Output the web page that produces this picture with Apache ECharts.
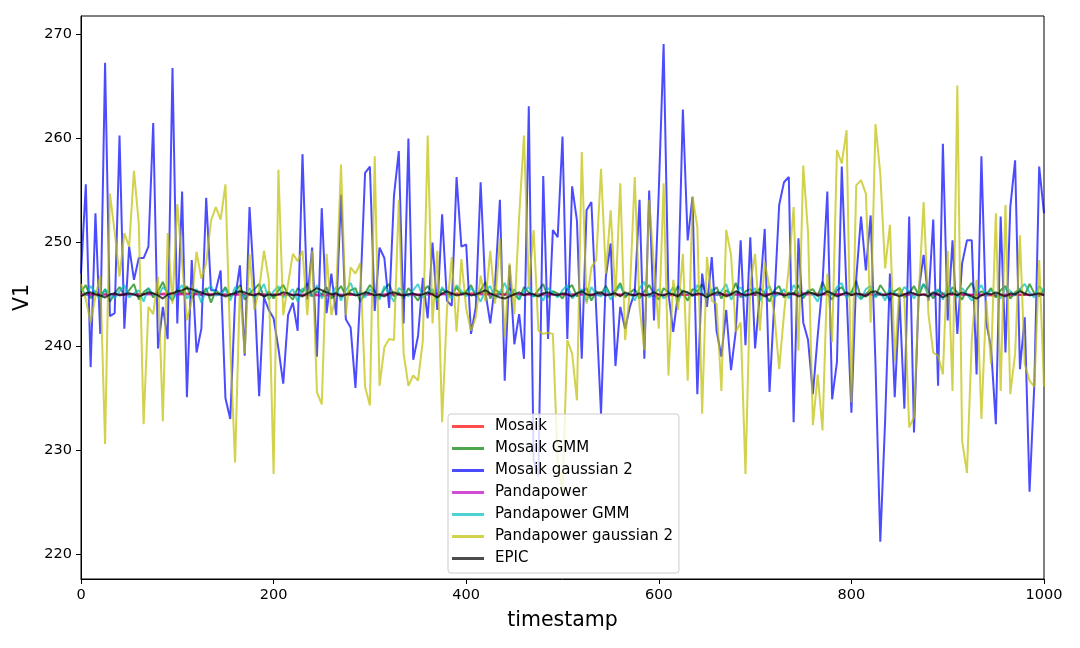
<!DOCTYPE html>
<html>
<head>
<meta charset="utf-8">
<title>V1 over timestamp</title>
<script src="https://cdn.jsdelivr.net/npm/echarts@6/dist/echarts.min.js"></script>
<style>
  html, body { margin: 0; padding: 0; background: #ffffff; }
  #chart { width: 1080px; height: 648px; }
</style>
</head>
<body>
<div id="chart"></div>
<script>
// eje x: un punto cada 5 unidades de 0 a 1000
var timestamp = [];
for (var i = 0; i <= 200; i++) timestamp.push(i * 5);
// las series planas solo necesitan pocos puntos
var flatTimestamp = [0, 50, 100, 150, 200, 250, 300, 350, 400, 450, 500, 550, 600, 650, 700, 750, 800, 850, 900, 950, 1000];

var xTicks = [0, 200, 400, 600, 800, 1000];
var yTicks = [220, 230, 240, 250, 260, 270];

var mosaik = [245.0, 245.0, 245.1, 245.0, 245.0, 244.9, 245.0, 245.0, 245.1, 245.0, 245.0,
  245.0, 244.9, 245.0, 245.0, 245.1, 245.0, 245.0, 245.0, 244.9, 245.0];

var pandapower = [245.0, 245.0, 245.0, 245.0, 245.0, 245.0, 245.0, 245.0, 245.0, 245.0, 245.0,
  245.0, 245.0, 245.0, 245.0, 245.0, 245.0, 245.0, 245.0, 245.0, 245.0];

var mosaikGMM = [
  245.2, 245.9, 244.6, 245.3, 244.8, 245.5, 244.3, 245.1, 245.7, 244.9,
  245.4, 246.0, 244.5, 245.2, 245.6, 244.7, 245.3, 246.2, 245.0, 244.4,
  245.5, 245.1, 245.8, 244.6, 245.3, 244.9, 245.6, 244.2, 245.4, 245.0,
  245.7, 244.8, 245.2, 245.9, 244.5, 245.1, 245.5, 246.0, 244.7, 245.3,
  244.6, 245.4, 245.9, 245.0, 244.5, 245.6, 245.2, 246.1, 244.8, 245.3,
  245.0, 245.7, 244.6, 245.2, 245.8, 244.9, 245.4, 245.6, 244.3, 245.1,
  245.9, 245.3, 244.7, 245.5, 246.0, 244.8, 245.2, 244.6, 245.6, 245.0,
  244.4, 245.3, 245.8, 245.1, 244.7, 245.5, 245.2, 244.9, 245.7, 245.0,
  245.3, 245.9, 244.8, 245.4, 246.2, 244.6, 245.5, 245.1, 244.9, 245.6,
  245.0, 244.5, 245.7, 245.2, 244.8, 245.4, 246.0, 244.7, 245.3, 245.1,
  244.6, 245.5, 245.9, 244.8, 245.2, 245.6, 244.4, 245.3, 245.0, 245.8,
  244.9, 245.4, 246.1, 244.7, 245.2, 245.5, 244.6, 245.3, 245.9, 245.0,
  244.5, 245.6, 245.2, 244.9, 245.8, 245.1, 244.4, 245.5, 245.3, 246.0,
  244.8, 245.2, 245.7, 244.6, 245.4, 245.0, 246.1, 244.7, 245.3, 245.5,
  244.9, 245.6, 245.1, 244.3, 245.4, 245.8, 244.7, 245.2, 245.0, 245.9,
  244.6, 245.3, 245.5, 244.8, 246.2, 245.1, 244.5, 245.4, 245.7, 244.9,
  245.2, 246.3, 244.6, 245.0, 245.5, 244.8, 245.9, 245.2, 244.4, 245.3,
  245.6, 244.7, 245.1, 245.8, 244.9, 246.0, 245.3, 244.6, 245.4, 245.1,
  244.8, 245.7, 245.2, 244.5, 245.5, 246.1, 244.9, 245.3, 245.0, 245.6,
  244.7, 245.4, 245.8, 244.6, 245.2, 245.5, 244.9, 246.0, 245.1, 244.8,
  245.5];

var mosaikGaussian2 = [
  247.0, 255.6, 238.0, 252.8, 241.2, 267.3, 242.9, 243.2, 260.3, 241.7,
  249.6, 246.4, 248.5, 248.5, 249.6, 261.5, 239.8, 243.8, 240.7, 266.8,
  242.2, 254.9, 235.1, 248.3, 239.4, 241.7, 254.3, 245.4, 245.4, 247.3,
  235.0, 233.0, 244.6, 247.8, 239.1, 253.4, 245.6, 235.2, 244.7, 243.5,
  242.7, 239.8, 236.4, 243.0, 244.2, 241.5, 258.5, 244.5, 249.5, 239.0,
  253.3, 243.2, 247.0, 243.0, 254.6, 242.6, 241.8, 236.0, 245.0, 256.7,
  257.3, 243.4, 249.5, 248.5, 243.7, 254.5, 258.8, 242.2, 260.0, 238.7,
  241.0, 246.6, 242.7, 250.0, 243.5, 252.7, 244.4, 243.9, 256.3, 249.6,
  249.8, 241.2, 243.8, 255.8, 245.2, 242.2, 246.0, 254.1, 236.7, 247.8,
  240.2, 243.1, 238.8, 263.1, 229.0, 227.5, 256.4, 240.7, 251.2, 250.5,
  260.2, 240.7, 255.4, 252.1, 238.8, 253.1, 253.9, 243.5, 233.5, 246.7,
  249.9, 238.1, 243.8, 241.7, 243.8, 245.2, 254.1, 238.8, 255.0, 242.5,
  255.0, 269.1, 245.1, 241.4, 245.1, 262.8, 250.2, 254.4, 235.4, 247.0,
  243.8, 248.6, 241.5, 239.0, 243.5, 237.7, 241.5, 250.2, 240.1, 250.5,
  239.8, 245.1, 251.3, 235.6, 244.4, 253.6, 255.8, 256.3, 232.7, 250.4,
  242.3, 240.6, 235.4, 241.0, 246.0, 254.9, 234.9, 238.5, 257.3, 245.1,
  233.6, 246.5, 252.5, 247.3, 252.6, 238.3, 221.2, 232.8, 247.0, 235.1,
  244.7, 234.0, 252.5, 231.7, 245.4, 248.8, 244.4, 252.2, 236.2, 259.5,
  242.5, 250.2, 241.2, 248.0, 250.2, 250.2, 237.3, 258.3, 242.3, 239.9,
  232.5, 252.5, 239.4, 253.4, 257.9, 237.8, 242.8, 226.0, 236.4, 257.3,
  252.8];

var pandapowerGMM = [
  245.6, 244.9, 245.8, 245.2, 244.4, 245.5, 245.0, 244.6, 245.3, 245.9,
  244.7, 245.1, 245.4, 244.3, 245.6, 245.0, 244.8, 245.7, 245.2, 244.5,
  245.3, 245.9, 244.6, 245.1, 245.5, 244.2, 245.4, 245.8, 244.9, 245.0,
  245.5, 244.4, 245.7, 245.1, 244.8, 245.6, 244.6, 245.2, 246.0, 244.5,
  245.3, 245.8, 244.7, 245.0, 245.5, 244.3, 245.6, 245.2, 244.8, 245.9,
  244.6, 245.3, 245.0, 245.7, 244.4, 245.4, 246.1, 244.9, 245.2, 244.7,
  245.5, 245.0, 244.5, 245.8, 245.1, 244.3, 245.6, 245.3, 244.8, 245.4,
  246.0, 244.7, 245.2, 245.5, 244.4, 245.7, 245.0, 244.6, 245.9, 245.3,
  244.8, 245.6, 245.1, 244.3, 245.4, 245.8, 244.6, 245.2, 246.1, 244.9,
  245.5, 244.5, 245.3, 245.7, 244.8, 245.0, 244.4, 245.6, 245.2, 244.7,
  245.4, 245.9, 244.6, 245.1, 245.5, 244.3, 245.7, 245.0, 244.8, 245.6,
  244.5, 245.3, 245.8, 244.9, 245.2, 244.4, 245.6, 246.2, 244.7, 245.1,
  245.5, 244.6, 245.0, 245.7, 244.3, 245.4, 245.1, 244.8, 245.9, 245.2,
  244.6, 245.5, 244.9, 245.3, 246.0, 244.5, 245.2, 245.7, 244.8, 245.0,
  245.6, 244.4, 245.3, 245.8, 244.7, 245.1, 245.5, 244.6, 245.9, 245.2,
  244.8, 245.4, 245.0, 244.3, 245.6, 245.2, 244.9, 245.7, 246.1, 244.6,
  245.3, 245.0, 244.5, 245.5, 245.8, 244.7, 245.2, 244.4, 245.6, 245.1,
  244.9, 245.7, 245.3, 244.6, 245.4, 246.0, 244.8, 245.1, 245.5, 244.5,
  245.8, 245.2, 244.7, 245.6, 245.0, 244.4, 245.3, 245.9, 244.8, 245.4,
  245.1, 244.6, 245.7, 245.3, 244.9, 245.5, 246.0, 245.2, 244.7, 245.8,
  245.3];

var pandapowerGaussian2 = [
  246.0, 244.5, 242.3, 244.8, 246.8, 230.6, 254.7, 251.0, 246.7, 250.9,
  249.6, 256.9, 251.8, 232.5, 243.8, 243.1, 246.7, 232.8, 250.9, 244.1,
  253.7, 248.0, 242.5, 244.4, 249.1, 246.5, 248.0, 252.1, 253.4, 252.2,
  255.6, 240.0, 228.8, 245.7, 239.3, 248.9, 243.5, 245.5, 249.2, 246.4,
  227.7, 257.0, 243.0, 246.0, 248.9, 248.2, 249.2, 243.0, 249.2, 235.6,
  234.4, 248.9, 243.0, 245.1, 257.5, 243.0, 247.6, 247.0, 248.0, 236.1,
  234.3, 258.3, 236.2, 239.9, 240.7, 240.6, 254.1, 239.3, 236.2, 237.2,
  236.7, 240.6, 260.3, 242.2, 249.2, 232.7, 243.5, 248.6, 241.4, 248.4,
  243.6, 241.5, 242.8, 246.8, 244.3, 249.2, 244.1, 250.4, 240.9, 248.0,
  243.1, 252.5, 260.3, 245.7, 251.2, 241.5, 241.2, 241.3, 241.2, 229.0,
  226.0, 240.6, 239.3, 234.8, 258.7, 244.1, 247.6, 248.3, 257.1, 247.0,
  253.1, 244.7, 255.7, 240.6, 245.4, 256.3, 243.8, 239.6, 254.1, 247.6,
  241.7, 255.7, 237.2, 246.4, 243.5, 248.9, 236.7, 254.4, 251.5, 233.5,
  248.6, 244.4, 244.1, 235.7, 251.2, 248.8, 241.4, 242.3, 227.7, 246.0,
  248.9, 241.5, 248.1, 245.7, 243.1, 237.8, 243.1, 247.6, 253.4, 239.6,
  257.4, 250.9, 232.4, 237.3, 231.9, 247.0, 240.4, 258.9, 257.6, 260.8,
  234.6, 255.5, 256.0, 254.7, 242.3, 261.4, 256.6, 247.5, 251.7, 238.6,
  245.7, 244.7, 232.2, 233.2, 245.1, 253.9, 243.1, 239.4, 239.1, 237.3,
  249.2, 235.7, 265.1, 230.9, 227.8, 240.6, 246.4, 233.0, 244.4, 238.3,
  252.8, 235.7, 253.6, 235.4, 239.3, 250.7, 238.3, 236.7, 236.1, 248.3,
  236.1];

var epic = [
  244.8, 245.1, 245.2, 245.0, 244.9, 244.7, 245.0, 245.1, 244.9, 245.0,
  245.1, 245.0, 244.8, 245.0, 245.2, 245.1, 244.9, 244.6, 245.0, 245.1,
  245.3, 245.4, 245.6, 245.5, 245.3, 245.2, 245.0, 244.9, 245.1, 245.0,
  244.8, 245.0, 245.1, 245.3, 245.2, 245.0, 244.9, 245.1, 244.8, 245.0,
  244.9, 245.0, 245.2, 245.1, 244.9, 245.0, 244.8, 245.1, 245.3, 245.6,
  245.4, 245.2, 245.0, 245.1, 244.8, 245.0, 245.1, 244.9, 245.0, 245.2,
  245.1, 244.9, 245.0, 244.8, 245.1, 245.2, 245.0, 244.9, 245.0, 245.1,
  244.9, 245.0, 245.2, 245.0, 244.7, 245.1, 245.3, 245.1, 244.9, 245.0,
  245.1, 244.9, 245.0, 245.2, 245.4, 245.1, 244.9, 244.7, 244.6, 244.8,
  245.0, 245.2, 244.9, 245.1, 245.0, 244.8, 245.1, 245.2, 245.0, 244.9,
  245.1, 245.0, 244.8, 245.1, 245.3, 245.0, 244.9, 245.1, 245.2, 244.9,
  245.0, 245.1, 244.8, 245.2, 245.0, 244.9, 245.1, 244.9, 245.0, 245.2,
  245.0, 244.9, 245.1, 245.0, 244.8, 245.3, 245.2, 244.9, 245.1, 245.0,
  244.7, 245.0, 245.2, 245.1, 244.8, 245.0, 245.3, 245.1, 244.9, 245.0,
  245.2, 245.1, 244.8, 245.0, 245.2, 245.1, 244.9, 245.0, 245.1, 244.8,
  245.0, 245.2, 245.1, 244.9, 245.0, 245.3, 245.1, 244.8, 245.0, 245.2,
  244.9, 245.1, 245.0, 244.8, 245.2, 245.3, 245.0, 244.9, 245.1, 245.0,
  244.8, 245.0, 245.2, 245.1, 244.9, 245.0, 244.8, 245.2, 245.0, 244.7,
  245.0, 245.1, 244.9, 245.2, 245.0, 244.8, 244.6, 244.9, 245.1, 245.0,
  245.2, 245.0, 244.8, 245.1, 245.0, 245.3, 245.1, 244.9, 245.0, 245.1,
  244.9];

function pares(xs, ys) {
  return xs.map(function (x, i) { return [x, ys[i]]; });
}

function linea(nombre, color, xs, ys) {
  return {
    name: nombre,
    type: 'line',
    data: pares(xs, ys),
    symbol: 'none',
    smooth: false,
    lineStyle: { color: color, width: 2, opacity: 0.7 },
    itemStyle: { color: color, opacity: 0.7 }
  };
}

var fuente = 'DejaVu Sans';
var chart = echarts.init(document.getElementById('chart'), null, { renderer: 'canvas' });

var option = {
  animation: false,
  backgroundColor: '#ffffff',
  grid: {
    left: 81, right: 36, top: 16, bottom: 69,
    show: true, borderColor: '#000000', borderWidth: 1, backgroundColor: 'transparent'
  },
  legend: {
    orient: 'vertical',
    left: 448, top: 414,
    padding: [5, 6, 7, 4],
    itemWidth: 32, itemHeight: 14, itemGap: 7,
    icon: 'path://M0,5.5L32,5.5L32,8.5L0,8.5Z',
    itemStyle: { borderWidth: 0 },
    backgroundColor: 'rgba(255,255,255,0.8)',
    borderColor: '#cccccc', borderWidth: 1, borderRadius: 3,
    textStyle: { fontFamily: fuente, fontSize: 15, color: '#000000', padding: [0, 0, 0, 6] },
    data: ['Mosaik', 'Mosaik GMM', 'Mosaik gaussian 2', 'Pandapower', 'Pandapower GMM', 'Pandapower gaussian 2', 'EPIC']
  },
  xAxis: {
    type: 'value',
    min: 0, max: 1000, interval: 200,
    name: 'timestamp', nameLocation: 'middle', nameGap: 31,
    nameTextStyle: { fontFamily: fuente, fontSize: 20.5, color: '#000000' },
    axisLine: { onZero: false, lineStyle: { color: '#000000', width: 1 } },
    axisTick: { show: true, inside: false, length: 5, lineStyle: { color: '#000000' }, customValues: xTicks },
    axisLabel: {
      margin: 9, fontFamily: fuente, fontSize: 14.5, color: '#000000', customValues: xTicks,
      formatter: function (v) { return String(v); }
    },
    splitLine: { show: false }
  },
  yAxis: {
    type: 'value',
    min: 217.6, max: 271.8,
    name: 'V1', nameLocation: 'middle', nameGap: 42,
    nameTextStyle: { fontFamily: fuente, fontSize: 20.5, color: '#000000' },
    axisLine: { show: true, onZero: false, lineStyle: { color: '#000000', width: 1 } },
    axisTick: { show: true, inside: false, length: 5, lineStyle: { color: '#000000' }, customValues: yTicks },
    axisLabel: { margin: 9, fontFamily: fuente, fontSize: 14.5, color: '#000000', customValues: yTicks },
    splitLine: { show: false }
  },
  series: [
    linea('Mosaik', '#ff0000', flatTimestamp, mosaik),
    linea('Mosaik GMM', '#008000', timestamp, mosaikGMM),
    linea('Mosaik gaussian 2', '#0000ff', timestamp, mosaikGaussian2),
    linea('Pandapower', '#bf00bf', flatTimestamp, pandapower),
    linea('Pandapower GMM', '#00bfbf', timestamp, pandapowerGMM),
    linea('Pandapower gaussian 2', '#bfbf00', timestamp, pandapowerGaussian2),
    linea('EPIC', '#000000', timestamp, epic)
  ]
};

chart.setOption(option);
</script>
</body>
</html>
